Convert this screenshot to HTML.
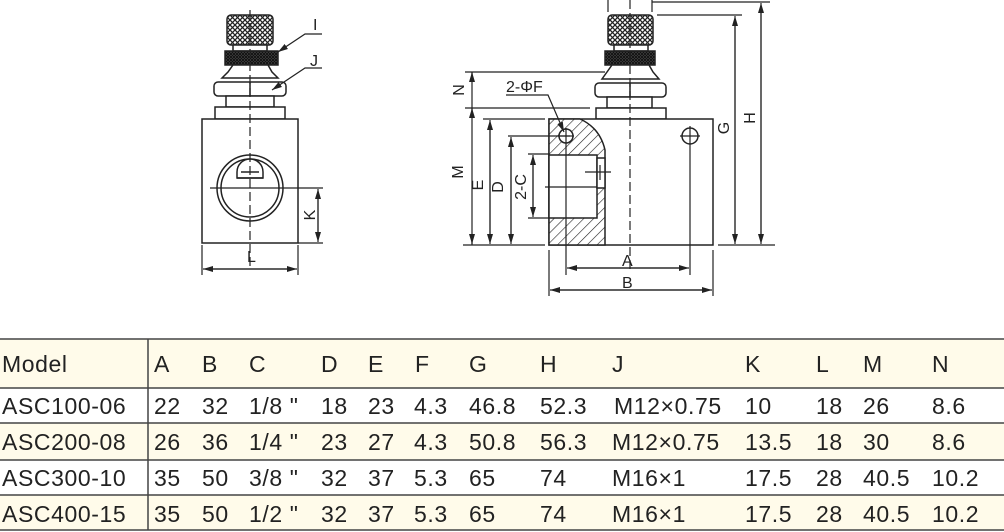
<!DOCTYPE html>
<html><head><meta charset="utf-8"><style>
html,body{margin:0;padding:0;background:#fff;}
svg{display:block;font-family:"Liberation Sans",sans-serif;}
</style></head><body>
<svg width="1004" height="532" viewBox="0 0 1004 532" xmlns="http://www.w3.org/2000/svg">
<defs>
<pattern id="knurl" width="5" height="5" patternUnits="userSpaceOnUse">
<rect width="5" height="5" fill="#fff"/><path d="M0 0L5 5M5 0L0 5" stroke="#222" stroke-width="1.3"/></pattern>
<pattern id="knurl2" width="3" height="3" patternUnits="userSpaceOnUse">
<rect width="3" height="3" fill="#555"/><path d="M0 0L3 3M3 0L0 3" stroke="#111" stroke-width="1"/></pattern>
<pattern id="hatch" width="7" height="7" patternUnits="userSpaceOnUse" patternTransform="rotate(45)">
<rect width="7" height="7" fill="#fff"/><line x1="0" y1="0" x2="0" y2="7" stroke="#222" stroke-width="1.2"/></pattern>
<marker id="ar" markerWidth="10" markerHeight="6" refX="10" refY="3" orient="auto" markerUnits="userSpaceOnUse"><path d="M0 0L10 3L0 6z" fill="#222"/></marker>
</defs>
<g stroke="#222" stroke-width="1.5" fill="#fff">
<rect x="227" y="15" width="46" height="30" rx="4" fill="url(#knurl)"/>
<rect x="233" y="45" width="34" height="6"/>
<rect x="225" y="51" width="53" height="14" fill="url(#knurl2)"/>
<path d="M233 65H268L272 72L278 78H222L228 72Z"/>
<rect x="214" y="82" width="72" height="14" rx="4"/>
<line x1="250" y1="82" x2="250" y2="96"/>
<rect x="226" y="96" width="48" height="11"/>
<rect x="215" y="107" width="70" height="12"/>
<rect x="202" y="119" width="96" height="124"/>
<circle cx="250" cy="188" r="33"/>
<circle cx="250" cy="188" r="29"/>
<path d="M237 172A13 13 0 0 1 263 172V178H237Z"/>
<line x1="237" y1="178" x2="263" y2="178"/>
<line x1="241" y1="172" x2="259" y2="172"/>
</g>
<g stroke="#222" stroke-width="1.2" fill="none">
<line x1="250" y1="10" x2="250" y2="268" stroke-dasharray="9,4"/>
<line x1="210" y1="188" x2="323" y2="188"/>
<line x1="298" y1="243" x2="323" y2="243"/>
<line x1="318" y1="192" x2="318" y2="242" marker-end="url(#ar)"/>
<line x1="318" y1="239" x2="318" y2="189" marker-end="url(#ar)"/>
<line x1="202" y1="245" x2="202" y2="275"/>
<line x1="298" y1="245" x2="298" y2="275"/>
<line x1="206" y1="269" x2="297" y2="269" marker-end="url(#ar)"/>
<line x1="294" y1="269" x2="203" y2="269" marker-end="url(#ar)"/>
<polyline points="322,34 305,34 278,52" marker-end="url(#ar)"/>
<polyline points="322,68 305,68 272,90" marker-end="url(#ar)"/>
</g>
<g font-size="16" fill="#222">
<text x="313" y="30">I</text>
<text x="310" y="66">J</text>
<text x="247" y="262">L</text>
<text transform="translate(315,215) rotate(-90)" text-anchor="middle">K</text>
</g>
<g stroke="#222" stroke-width="1.5" fill="#fff">
<rect x="608" y="15" width="45" height="30" rx="4" fill="url(#knurl)"/>
<rect x="614" y="45" width="34" height="6"/>
<rect x="605" y="51" width="50" height="14" fill="url(#knurl2)"/>
<path d="M612 65H649L653 72L659 79H602L607 72Z"/>
<rect x="595" y="83" width="71" height="14" rx="4"/>
<line x1="630" y1="83" x2="630" y2="97"/>
<rect x="607" y="97" width="45" height="11"/>
<rect x="596" y="108" width="70" height="11"/>
<rect x="549" y="119" width="164" height="126"/>
<path d="M549 119H580Q600 128 605 150V245H549Z" fill="url(#hatch)"/>
<rect x="549" y="155" width="48" height="63"/>
<rect x="597" y="158" width="8" height="30"/>
<circle cx="566" cy="136" r="7"/>
<circle cx="690" cy="136" r="8"/>
</g>
<g stroke="#222" stroke-width="1.2" fill="none">
<line x1="630" y1="0" x2="630" y2="272" stroke-dasharray="9,4"/>
<line x1="608" y1="0" x2="608" y2="12"/><line x1="652" y1="0" x2="652" y2="12"/>
<line x1="652" y1="2" x2="770" y2="2"/>
<line x1="657" y1="15" x2="742" y2="15"/>
<line x1="718" y1="245" x2="775" y2="245"/>
<line x1="761" y1="6" x2="761" y2="244" marker-end="url(#ar)"/>
<line x1="761" y1="241" x2="761" y2="3" marker-end="url(#ar)"/>
<line x1="735" y1="19" x2="735" y2="244" marker-end="url(#ar)"/>
<line x1="735" y1="241" x2="735" y2="16" marker-end="url(#ar)"/>
<line x1="465" y1="72" x2="605" y2="72"/>
<line x1="465" y1="108" x2="590" y2="108"/>
<line x1="472" y1="72" x2="472" y2="245"/>
<line x1="472" y1="76" x2="472" y2="72" marker-end="url(#ar)"/>
<line x1="472" y1="112" x2="472" y2="108" marker-end="url(#ar)"/>
<line x1="472" y1="239" x2="472" y2="244" marker-end="url(#ar)"/>
<line x1="463" y1="245" x2="545" y2="245"/>
<line x1="483" y1="119" x2="545" y2="119"/>
<line x1="490" y1="123" x2="490" y2="244" marker-end="url(#ar)"/>
<line x1="490" y1="240" x2="490" y2="120" marker-end="url(#ar)"/>
<line x1="508" y1="136" x2="570" y2="136"/>
<line x1="511" y1="140" x2="511" y2="244" marker-end="url(#ar)"/>
<line x1="511" y1="240" x2="511" y2="137" marker-end="url(#ar)"/>
<line x1="528" y1="154" x2="549" y2="154"/>
<line x1="528" y1="218" x2="549" y2="218"/>
<line x1="533" y1="158" x2="533" y2="217" marker-end="url(#ar)"/>
<line x1="533" y1="214" x2="533" y2="155" marker-end="url(#ar)"/>
<line x1="545" y1="187" x2="597" y2="187"/>
<line x1="585" y1="172" x2="611" y2="172"/><line x1="600" y1="165" x2="600" y2="180"/>
<line x1="566" y1="128" x2="566" y2="275"/>
<line x1="558" y1="136" x2="574" y2="136"/>
<line x1="680" y1="136" x2="700" y2="136"/>
<line x1="690" y1="126" x2="690" y2="275"/>
<line x1="549" y1="250" x2="549" y2="296"/>
<line x1="713" y1="250" x2="713" y2="296"/>
<line x1="570" y1="268" x2="689" y2="268" marker-end="url(#ar)"/>
<line x1="686" y1="268" x2="567" y2="268" marker-end="url(#ar)"/>
<line x1="553" y1="290" x2="712" y2="290" marker-end="url(#ar)"/>
<line x1="709" y1="290" x2="550" y2="290" marker-end="url(#ar)"/>
<polyline points="506,95 548,95 564,132" marker-end="url(#ar)"/>
</g>
<g font-size="16" fill="#222">
<text x="506" y="92">2-ΦF</text>
<text x="622" y="266">A</text>
<text x="622" y="288">B</text>
<text transform="translate(464,90) rotate(-90)" text-anchor="middle">N</text>
<text transform="translate(463,172) rotate(-90)" text-anchor="middle">M</text>
<text transform="translate(483,185) rotate(-90)" text-anchor="middle">E</text>
<text transform="translate(503,187) rotate(-90)" text-anchor="middle">D</text>
<text transform="translate(526,187) rotate(-90)" text-anchor="middle">2-C</text>
<text transform="translate(729,128) rotate(-90)" text-anchor="middle">G</text>
<text transform="translate(755,118) rotate(-90)" text-anchor="middle">H</text>
</g>
<rect x="0" y="339" width="1004" height="49" fill="#fffbea"/>
<rect x="0" y="423" width="1004" height="37" fill="#fffbea"/>
<rect x="0" y="495" width="1004" height="35" fill="#fffbea"/>
<g stroke="#444" stroke-width="1.5">
<line x1="0" y1="339" x2="1004" y2="339"/>
<line x1="0" y1="388" x2="1004" y2="388"/>
<line x1="0" y1="423" x2="1004" y2="423"/>
<line x1="0" y1="460" x2="1004" y2="460"/>
<line x1="0" y1="495" x2="1004" y2="495"/>
<line x1="0" y1="530" x2="1004" y2="530"/>
<line x1="148" y1="339" x2="148" y2="530"/>
</g>
<g font-size="23" fill="#222" letter-spacing="0.6">
<text y="372"><tspan x="2">Model</tspan><tspan x="154">A</tspan><tspan x="202">B</tspan><tspan x="249">C</tspan><tspan x="321">D</tspan><tspan x="368">E</tspan><tspan x="415">F</tspan><tspan x="469">G</tspan><tspan x="540">H</tspan><tspan x="612">J</tspan><tspan x="745">K</tspan><tspan x="816">L</tspan><tspan x="863">M</tspan><tspan x="932">N</tspan></text>
<text y="414"><tspan x="2">ASC100-06</tspan><tspan x="154">22</tspan><tspan x="202">32</tspan><tspan x="249">1/8 "</tspan><tspan x="321">18</tspan><tspan x="368">23</tspan><tspan x="414">4.3</tspan><tspan x="469">46.8</tspan><tspan x="540">52.3</tspan><tspan x="614">M12×0.75</tspan><tspan x="745">10</tspan><tspan x="816">18</tspan><tspan x="863">26</tspan><tspan x="932">8.6</tspan></text>
<text y="450"><tspan x="2">ASC200-08</tspan><tspan x="154">26</tspan><tspan x="202">36</tspan><tspan x="249">1/4 "</tspan><tspan x="321">23</tspan><tspan x="368">27</tspan><tspan x="414">4.3</tspan><tspan x="469">50.8</tspan><tspan x="540">56.3</tspan><tspan x="612">M12×0.75</tspan><tspan x="745">13.5</tspan><tspan x="816">18</tspan><tspan x="863">30</tspan><tspan x="932">8.6</tspan></text>
<text y="486"><tspan x="2">ASC300-10</tspan><tspan x="154">35</tspan><tspan x="202">50</tspan><tspan x="249">3/8 "</tspan><tspan x="321">32</tspan><tspan x="368">37</tspan><tspan x="414">5.3</tspan><tspan x="469">65</tspan><tspan x="540">74</tspan><tspan x="612">M16×1</tspan><tspan x="745">17.5</tspan><tspan x="816">28</tspan><tspan x="863">40.5</tspan><tspan x="932">10.2</tspan></text>
<text y="522"><tspan x="2">ASC400-15</tspan><tspan x="154">35</tspan><tspan x="202">50</tspan><tspan x="249">1/2 "</tspan><tspan x="321">32</tspan><tspan x="368">37</tspan><tspan x="414">5.3</tspan><tspan x="469">65</tspan><tspan x="540">74</tspan><tspan x="612">M16×1</tspan><tspan x="745">17.5</tspan><tspan x="816">28</tspan><tspan x="863">40.5</tspan><tspan x="932">10.2</tspan></text>
</g>
</svg>
</body></html>
